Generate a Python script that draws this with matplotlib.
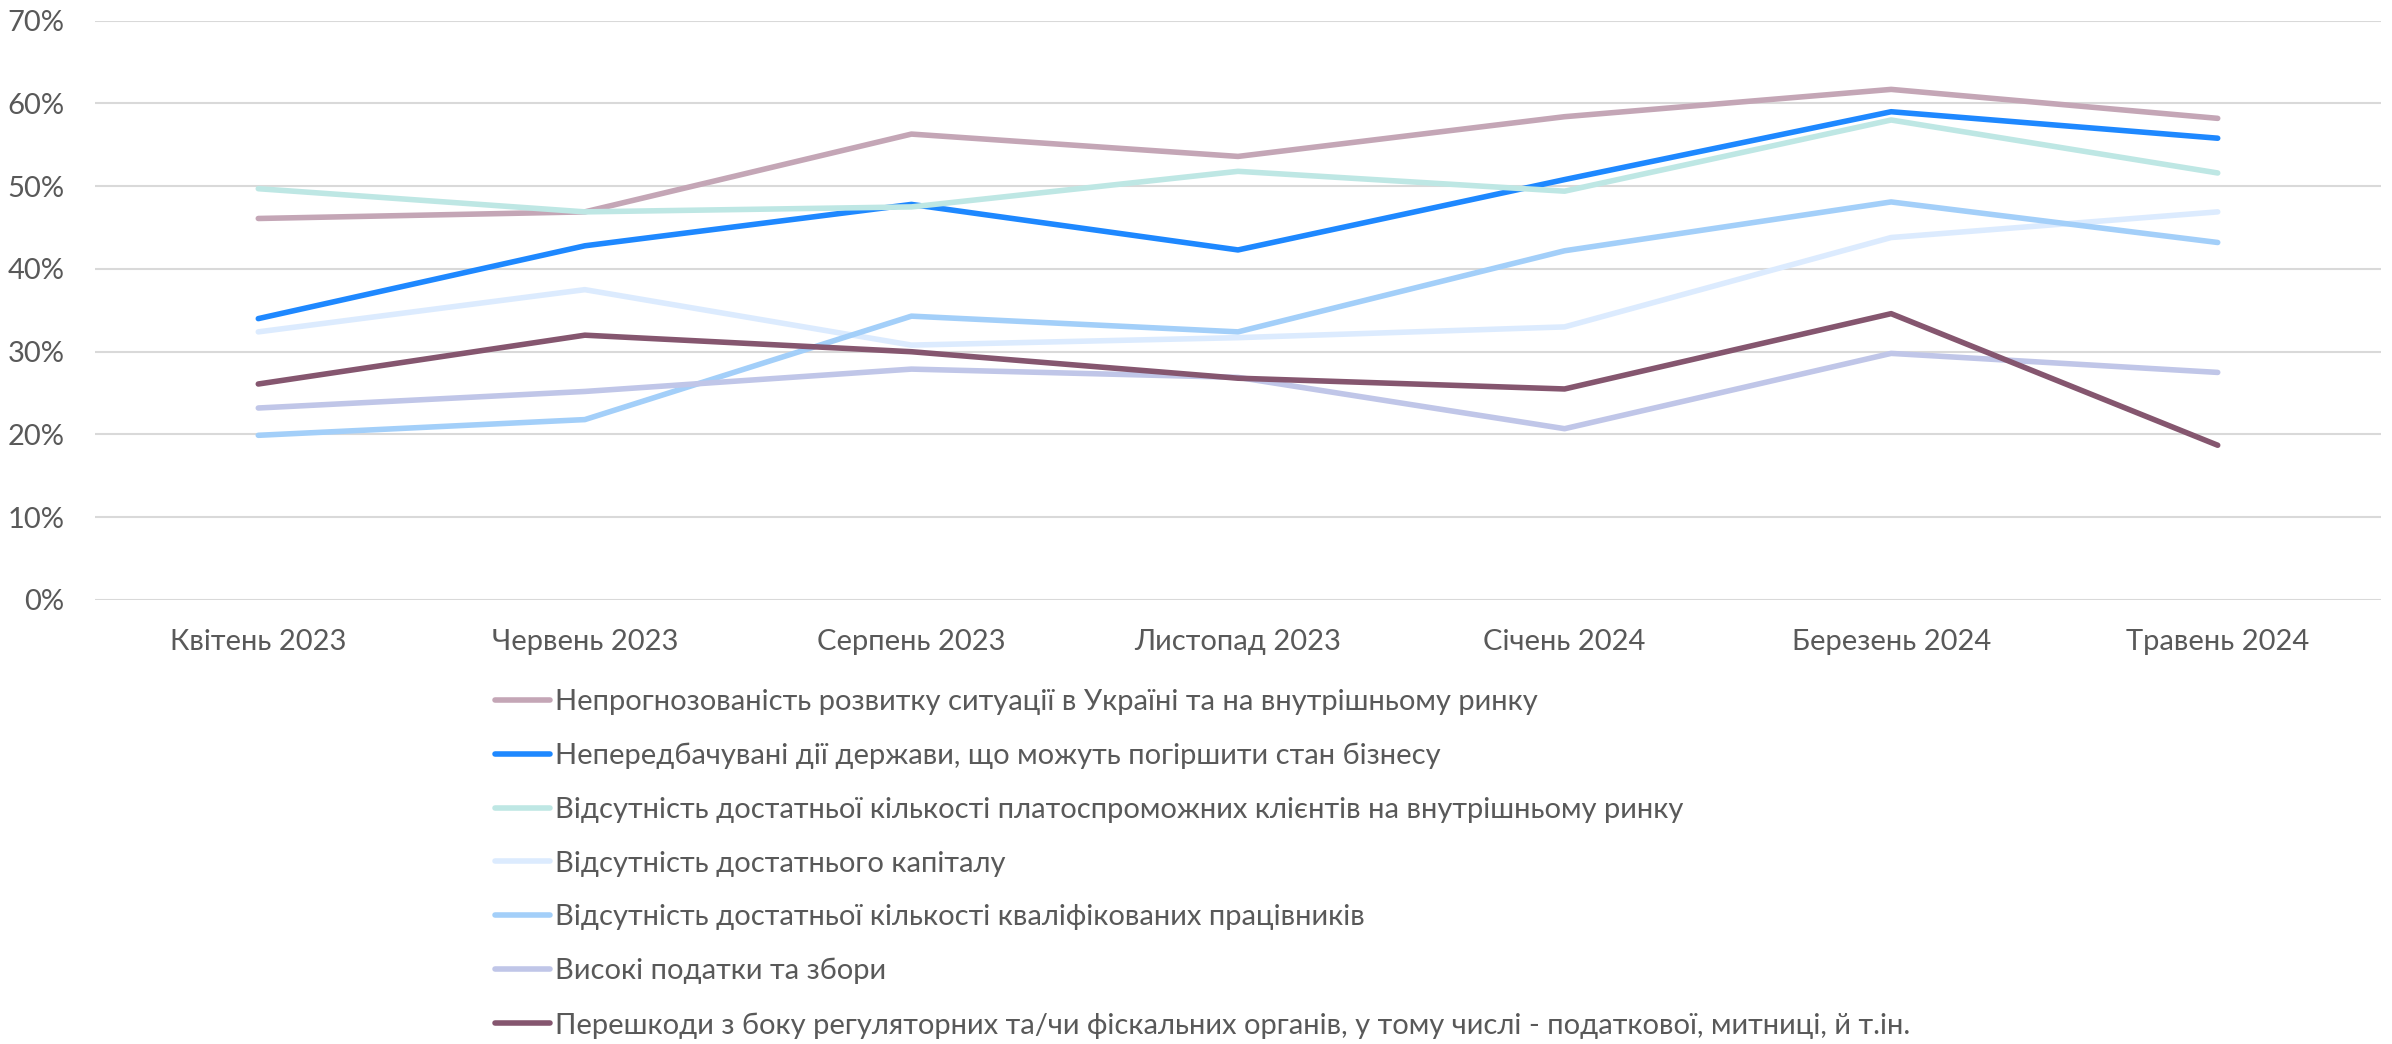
import matplotlib
matplotlib.use("Agg")
import matplotlib.pyplot as plt
from matplotlib.ticker import PercentFormatter, MultipleLocator

plt.rcParams['font.family'] = ['Lato', 'DejaVu Sans']

categories = ["Квітень 2023", "Червень 2023", "Серпень 2023", "Листопад 2023",
              "Січень 2024", "Березень 2024", "Травень 2024"]

series_names = [
    "Непрогнозованість розвитку ситуації в Україні та на внутрішньому ринку",
    "Непередбачувані дії держави, що можуть погіршити стан бізнесу",
    "Відсутність достатньої кількості платоспроможних клієнтів на внутрішньому ринку",
    "Відсутність достатнього капіталу",
    "Відсутність достатньої кількості кваліфікованих працівників",
    "Високі податки та збори",
    "Перешкоди з боку регуляторних та/чи фіскальних органів, у тому числі - податкової, митниці, й т.ін.",
]

unpredictability = [46.1, 46.9, 56.3, 53.6, 58.4, 61.7, 58.2]
state_actions = [34.0, 42.8, 47.8, 42.3, 50.8, 59.0, 55.8]
solvent_clients = [49.7, 46.9, 47.5, 51.8, 49.4, 58.0, 51.6]
capital = [32.4, 37.5, 30.8, 31.7, 33.0, 43.8, 46.9]
qualified_staff = [19.9, 21.8, 34.3, 32.4, 42.2, 48.1, 43.2]
taxes = [23.2, 25.2, 27.9, 26.9, 20.7, 29.8, 27.5]
regulators = [26.1, 32.0, 30.0, 26.8, 25.5, 34.6, 18.7]

all_series = [unpredictability, state_actions, solvent_clients, capital,
              qualified_staff, taxes, regulators]
colors = ["#C4A6B6", "#1E88FF", "#BEE7E4", "#DCEBFE", "#A3CFF9", "#C0C6E8", "#85566F"]

W, H = 2392, 1044
fig = plt.figure(figsize=(W / 100, H / 100), dpi=100)
ax = fig.add_axes([95 / W, 1 - 600 / H, (2381 - 95) / W, (600 - 20.7) / H])

x = list(range(len(categories)))
handles = []
for vals, name, c in zip(all_series, series_names, colors):
    h, = ax.plot(x, vals, color=c, lw=4, solid_capstyle='round',
                 solid_joinstyle='round', label=name)
    handles.append(h)

ax.set_xlim(-0.5, len(categories) - 0.5)
ax.set_ylim(0, 70)
ax.yaxis.set_major_locator(MultipleLocator(10))
ax.yaxis.set_major_formatter(PercentFormatter(decimals=0))
ax.set_xticks(x)
ax.set_xticklabels(categories)
ax.grid(axis='y', color='#D9D9D9', lw=1.5)
ax.set_axisbelow(True)
for s in ax.spines.values():
    s.set_visible(False)
ax.tick_params(axis='both', length=0, labelsize=21, labelcolor='#595959')
ax.tick_params(axis='y', pad=22)
ax.tick_params(axis='x', pad=21)

leg = fig.legend(handles=handles, loc='upper left',
                 bbox_to_anchor=(495 / W, 1 - 689 / H),
                 frameon=False, fontsize=21, labelcolor='#595959',
                 handlelength=1.9, handletextpad=0.15, labelspacing=0.95,
                 borderpad=0, borderaxespad=0)

fig.savefig("out.png", dpi=100)
